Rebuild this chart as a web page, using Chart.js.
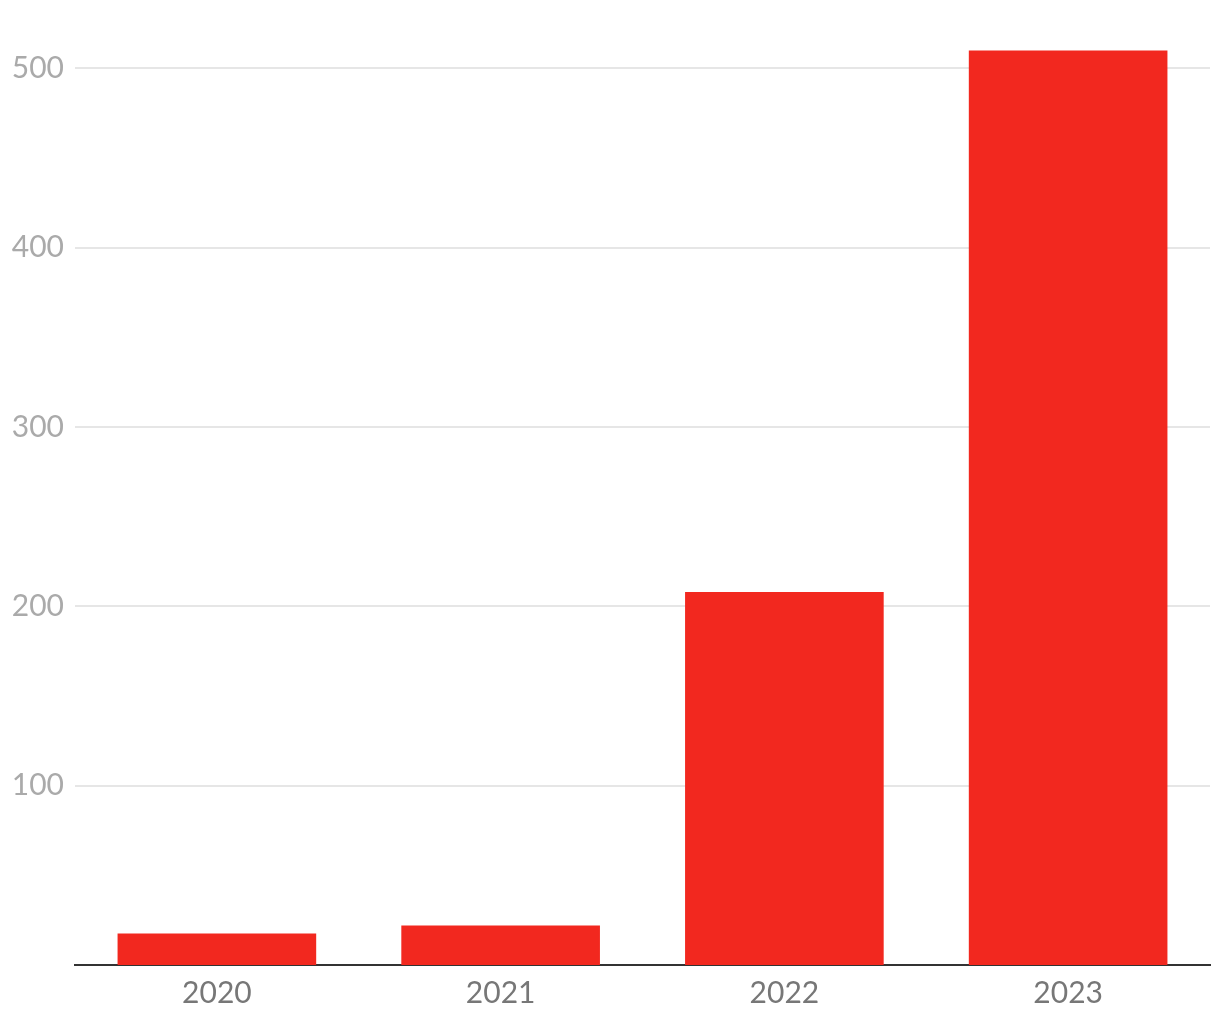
<!DOCTYPE html>
<html>
<head>
<meta charset="utf-8">
<script src="https://cdn.jsdelivr.net/npm/chart.js@4/dist/chart.umd.min.js"></script>
<style>
    html, body { margin: 0; padding: 0; background: #ffffff; }
    #wrap { position: relative; width: 1220px; height: 1020px; }
</style>
</head>
<body>
<div id="wrap"><canvas id="chart"></canvas></div>
<script>
// Dados do gráfico
const categories = ['2020', '2021', '2022', '2023'];
const values = [17.5, 22, 208, 510];
const yTicks = [100, 200, 300, 400, 500];

const barColor = '#f2281f';

const ctx = document.getElementById('chart').getContext('2d');
new Chart(ctx, {
    type: 'bar',
    data: {
        labels: categories,
        datasets: [{
            data: values,
            backgroundColor: barColor,
            borderWidth: 0,
            barPercentage: 0.7,
            categoryPercentage: 1
        }]
    },
    options: {
        responsive: true,
        maintainAspectRatio: false,
        animation: false,
        layout: { padding: { top: 0, right: 10, left: 0, bottom: 0 } },
        plugins: {
            legend: { display: false },
            tooltip: { enabled: false }
        },
        scales: {
            x: {
                grid: { display: false, drawTicks: false },
                border: { display: true, color: '#333333', width: 2 },
                ticks: {
                    color: '#777777',
                    font: { family: 'Lato', size: 30 },
                    padding: 10
                },
                afterFit: (scale) => { scale.height = 55; }
            },
            y: {
                min: 0,
                max: 522,
                grid: { color: '#e6e6e6', lineWidth: 2, drawTicks: false },
                border: { display: false },
                ticks: {
                    color: '#aaaaaa',
                    font: { family: 'Lato', size: 30 },
                    padding: 11
                },
                afterBuildTicks: (scale) => {
                    scale.ticks = yTicks.map(v => ({ value: v }));
                },
                afterFit: (scale) => { scale.width = 75; }
            }
        }
    }
});
</script>
</body>
</html>
